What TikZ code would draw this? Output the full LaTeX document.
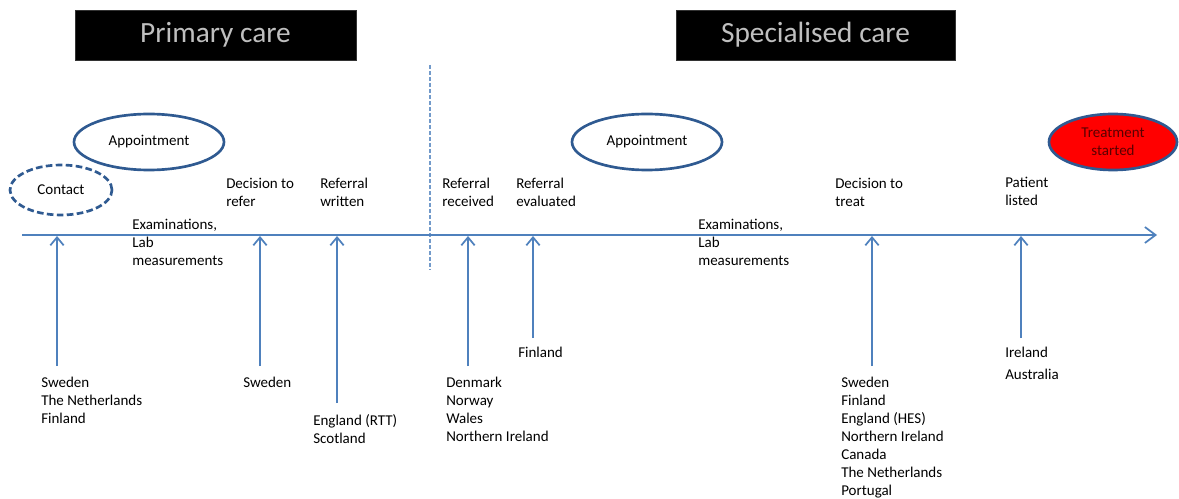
\documentclass[tikz,border=0pt]{standalone}
\usepackage{fontspec}
\setmainfont{Carlito}
\usetikzlibrary{arrows.meta,shapes.geometric}
\definecolor{axisblue}{HTML}{4F81BD}
\definecolor{rimblue}{HTML}{2F5A91}
\definecolor{titlegray}{HTML}{BFBFBF}
\definecolor{treatred}{HTML}{FF0000}
\definecolor{treattext}{HTML}{5A0000}
\tikzset{
  titlebox/.style={fill=black,draw=black!80,text=titlegray,font=\fontsize{22}{26}\selectfont,inner sep=0},
  lbl/.style={anchor=north west,inner sep=0,align=left,font=\fontsize{11.25}{13.5}\selectfont},
  oval/.style={ellipse,draw=rimblue,line width=2pt,inner sep=0,font=\fontsize{11.25}{13.5}\selectfont,align=center},
  uparrow/.style={draw=axisblue,line width=1.5pt,-{Straight Barb[length=6pt,width=10pt,line width=1.3pt]}},
}
\begin{document}
\begin{tikzpicture}[x=0.75pt,y=-0.75pt]
\useasboundingbox (0,0) rectangle (1179,499);
% titles
\node[titlebox,minimum width=210.75pt,minimum height=37.5pt] (prim) at (215.5,35) {Primary care};
\node[titlebox,minimum width=209.25pt,minimum height=37.5pt] (spec) at (815.5,35) {Specialised care};
% divider
\coordinate (dtop) at (430,65);
\coordinate (dbot) at (430,270);
\draw[axisblue!80,line width=1.2pt,dash pattern=on 3pt off 1.5pt] (dtop) -- (dbot);
% axis
\coordinate (astart) at (22,235);
\coordinate (aend) at (1157,235);
\draw[draw=axisblue,line width=1.5pt,-{Straight Barb[length=8pt,width=12pt,line width=1.3pt]}] (astart) -- (aend);
% ovals
\node[oval,minimum width=112.5pt,minimum height=42pt] (app1) at (149,142) {Appointment};
\node[oval,dashed,dash pattern=on 5pt off 2.5pt,minimum width=76.5pt,minimum height=37.5pt] (contact) at (61,190) {Contact};
\node[oval,minimum width=112.5pt,minimum height=42pt] (app2) at (647,142) {Appointment};
\node[oval,fill=treatred,text=treattext,minimum width=96pt,minimum height=42pt] (treat) at (1113,142) {Treatment\\started};
% upper labels
\node[lbl] (dref) at (226,178) {Decision to\\refer};
\node[lbl] (rwrit) at (320,178) {Referral\\written};
\node[lbl] (rrec) at (442,178) {Referral\\received};
\node[lbl] (reval) at (516,178) {Referral\\evaluated};
\node[lbl] (dtreat) at (835,178) {Decision to\\treat};
\node[lbl] (plist) at (1005,177) {Patient\\listed};
\node[lbl] (exam1) at (132,219) {Examinations,\\Lab\\measurements};
\node[lbl] (exam2) at (698,219) {Examinations,\\Lab\\measurements};
% arrows
\coordinate (b1) at (57,366);   \coordinate (t1) at (57,236);
\coordinate (b2) at (260,366);  \coordinate (t2) at (260,236);
\coordinate (b3) at (337,403);  \coordinate (t3) at (337,236);
\coordinate (b4) at (468,366);  \coordinate (t4) at (468,236);
\coordinate (b5) at (533,338);  \coordinate (t5) at (533,236);
\coordinate (b6) at (872,366);  \coordinate (t6) at (872,236);
\coordinate (b7) at (1021,338); \coordinate (t7) at (1021,236);
\foreach \i in {1,...,7} {\draw[uparrow] (b\i) -- (t\i);}
% country lists
\node[lbl] (c1) at (41,377) {Sweden\\The Netherlands\\Finland};
\node[lbl] (c2) at (243,377) {Sweden};
\node[lbl] (c3) at (313,414) {England (RTT)\\Scotland};
\node[lbl] (c4) at (446,377) {Denmark\\Norway\\Wales\\Northern Ireland};
\node[lbl] (c5) at (518,347) {Finland};
\node[lbl] (c6) at (841,377) {Sweden\\Finland\\England (HES)\\Northern Ireland\\Canada\\The Netherlands\\Portugal};
\node[lbl,font=\fontsize{11.25}{16.5}\selectfont] (c7) at (1005,347) {Ireland\\Australia};
\end{tikzpicture}
\end{document}
